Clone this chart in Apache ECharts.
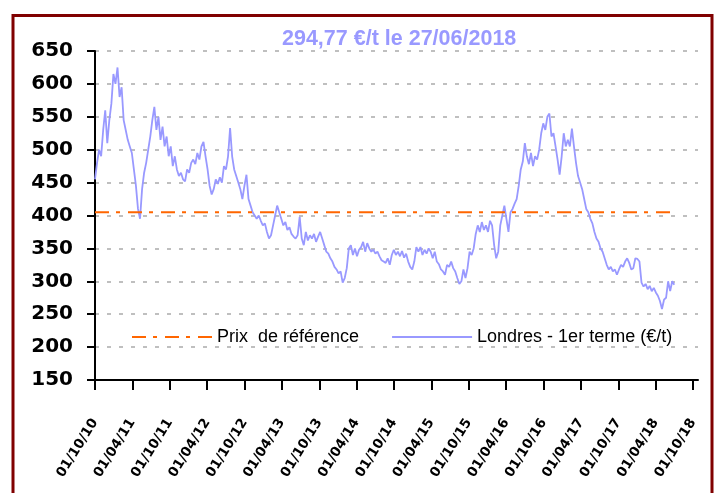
<!DOCTYPE html>
<html><head><meta charset="utf-8">
<script src="https://cdn.jsdelivr.net/npm/echarts@6/dist/echarts.min.js"></script>
<style>html,body{margin:0;padding:0;background:#fff}#c{width:720px;height:493px}</style>
</head><body><div id="c"></div>
<script>
// ---- data ----
const titleText = '294,77 €/t le 27/06/2018';
const seriesNames = ['Prix  de référence', 'Londres - 1er terme (€/t)'];
const startDate = [2010, 9, 1];   // 01/10/2010, one value every stepDays
const stepDays = 10;
const londres = [
455,480,500,490,530,560,510,545,570,615,
600,625,580,595,545,530,515,505,495,470,
445,410,395,440,465,480,500,520,545,565,
530,550,515,535,505,520,490,505,475,490,
470,460,465,455,452,470,465,480,485,478,
495,485,505,512,490,470,445,432,440,455,
448,458,450,475,470,490,533,490,470,460,
450,440,425,445,462,425,415,405,400,395,
400,392,385,388,375,365,370,385,400,415,
405,395,385,390,378,382,372,368,365,370,
398,365,355,375,362,370,365,372,360,368,
375,365,355,345,342,335,330,322,318,312,
315,298,305,320,350,355,340,350,338,348,
352,360,345,358,350,345,348,342,345,338,
332,330,328,335,325,340,348,340,345,338,
346,336,342,330,322,318,330,352,345,352,
340,348,342,350,345,335,345,330,326,318,
315,310,325,322,330,320,315,305,296,300,
318,305,320,345,340,350,372,385,375,390,
378,385,375,392,385,355,335,345,385,400,
415,395,375,405,410,418,425,445,470,482,
510,490,478,495,475,490,485,500,525,540,
530,550,555,520,525,505,485,462,490,525,
505,515,505,532,505,480,460,450,440,425,
410,405,395,388,375,365,360,350,345,335,
325,318,322,315,318,310,318,325,322,330,
335,328,318,320,335,334,330,298,292,296,
288,293,285,290,283,278,270,258,272,275,
300,285,300,294.77
];
const refPrice = 405;
const tickDates = [
[2010,9,1],[2011,3,1],[2011,9,1],[2012,3,1],[2012,9,1],[2013,3,1],[2013,9,1],[2014,3,1],[2014,9,1],
[2015,3,1],[2015,9,1],[2016,3,1],[2016,9,1],[2017,3,1],[2017,9,1],[2018,3,1],[2018,9,1]
];
const axisMaxDate = [2018, 9, 25];
const yMin = 150, yMax = 650, yStep = 50;

// ---- build ----
const DAY = 86400000;
const t0 = Date.UTC(startDate[0], startDate[1], startDate[2]);
const londresData = londres.map((v, i) => [t0 + i * stepDays * DAY, v]);
const tEnd = londresData[londresData.length - 1][0];
const refData = [[t0, refPrice], [tEnd, refPrice]];
const tickVals = tickDates.map(d => Date.UTC(d[0], d[1], d[2]));
const pad = n => (n < 10 ? '0' : '') + n;
const fmt = v => { const d = new Date(v); return pad(d.getUTCDate()) + '/' + pad(d.getUTCMonth() + 1) + '/' + pad(d.getUTCFullYear() % 100); };

const chart = echarts.init(document.getElementById('c'), null, { renderer: 'canvas' });
chart.setOption({
  animation: false,
  backgroundColor: '#ffffff',
  title: {
    text: titleText, left: 277, top: 23,
    textStyle: { fontFamily: 'Liberation Sans', fontWeight: 'bold', fontSize: 21.5, color: '#9999FF' }
  },
  graphic: [{
    type: 'rect', shape: { x: 13, y: 15.5, width: 699, height: 520 },
    style: { fill: 'none', stroke: '#800000', lineWidth: 3 }, z: 100, silent: true
  }],
  legend: {
    data: seriesNames, left: 131, top: 328, padding: 0, itemWidth: 80, itemHeight: 14, itemGap: 32,
    itemStyle: { opacity: 0 },
    textStyle: { fontFamily: 'Liberation Sans', fontSize: 18, color: '#000' }
  },
  grid: { left: 95, right: 22, top: 51, bottom: 113, containLabel: false },
  xAxis: {
    type: 'value', min: t0, max: Date.UTC(axisMaxDate[0], axisMaxDate[1], axisMaxDate[2]),
    axisLine: { show: true, lineStyle: { color: '#000', width: 2 } },
    axisTick: { show: true, customValues: tickVals, length: 10, lineStyle: { color: '#000', width: 2 } },
    axisLabel: {
      customValues: tickVals, formatter: fmt, rotate: 58, margin: 40,
      fontFamily: 'DejaVu Sans', fontWeight: 'bold', fontSize: 13.5, color: '#000'
    },
    splitLine: { show: false }
  },
  yAxis: {
    type: 'value', min: yMin, max: yMax, interval: yStep,
    axisLine: { show: true, lineStyle: { color: '#000', width: 2 } },
    axisTick: { show: true, length: 8, lineStyle: { color: '#000', width: 2 } },
    axisLabel: { margin: 22, fontFamily: 'DejaVu Sans', fontWeight: 'bold', fontSize: 20, color: '#000' },
    splitLine: { show: true, lineStyle: { color: '#BFBFBF', width: 2, type: [4, 8] } }
  },
  series: [
    {
      name: seriesNames[0], type: 'line', data: refData, symbol: 'none', showSymbol: false,
      lineStyle: { color: '#FF6600', width: 2, type: [14, 7, 4, 8] }, itemStyle: { color: '#FF6600' }, z: 3
    },
    {
      name: seriesNames[1], type: 'line', data: londresData, symbol: 'none', showSymbol: false,
      lineStyle: { color: '#9999FF', width: 1.8 }, itemStyle: { color: '#9999FF' }, z: 2
    }
  ]
});
</script></body></html>
